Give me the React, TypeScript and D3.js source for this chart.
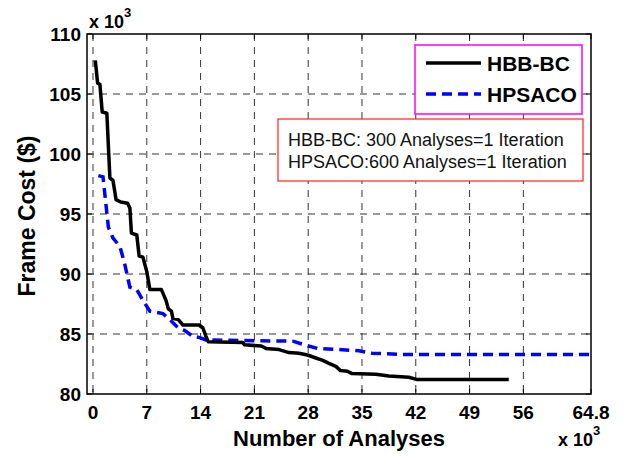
import { useEffect, useRef } from "react";
import * as d3 from "d3";

// values, x in thousands of analyses, y in thousands of $
const hbbX = [0.3, 0.6, 0.9, 1.2, 1.8, 2.2, 2.6, 3.0, 3.6, 4.5, 4.8, 5.0, 5.7, 6.0, 6.5, 7.0, 7.4, 8.9, 9.5, 9.8, 10.2, 10.4, 11.1, 11.7, 13.8, 14.3, 14.7, 15.0, 19.5, 19.7, 21.9, 22.5, 24.2, 25.5, 26.8, 27.9, 29.0, 29.9, 30.7, 31.6, 32.2, 33.1, 33.7, 36.8, 38.5, 41.1, 42.2, 54.1];
const hbbY = [107.8, 105.9, 105.8, 103.5, 103.4, 98.0, 97.8, 96.2, 96.0, 95.9, 95.5, 93.4, 93.25, 91.5, 91.4, 90.2, 88.7, 88.7, 87.8, 87.1, 86.9, 86.3, 86.2, 85.75, 85.75, 85.5, 84.8, 84.35, 84.3, 84.1, 84.0, 83.8, 83.7, 83.45, 83.4, 83.25, 83.0, 82.8, 82.55, 82.3, 81.95, 81.9, 81.7, 81.65, 81.5, 81.4, 81.2, 81.2];

const psoX = [0.7, 1.3, 2.0, 2.6, 3.5, 4.1, 4.8, 5.7, 6.5, 7.4, 9.1, 10.0, 11.1, 11.9, 13.0, 13.9, 14.7, 26.0, 27.5, 29.2, 32.0, 34.6, 36.3, 39.8, 64.8];
const psoY = [98.2, 98.1, 93.9, 93.0, 92.3, 90.9, 88.9, 88.7, 87.8, 86.9, 86.7, 86.2, 85.5, 85.3, 84.8, 84.7, 84.5, 84.4, 84.1, 83.8, 83.7, 83.6, 83.4, 83.3, 83.3];

const xTicks = [0, 7, 14, 21, 28, 35, 42, 49, 56, 64.8];
const yTicks = [80, 85, 90, 95, 100, 105, 110];
const seriesNames = ["HBB-BC", "HPSACO"];
const notes = ["HBB-BC: 300 Analyses=1 Iteration", "HPSACO:600 Analyses=1 Iteration"];

const W = 623;
const H = 457;
const M = { top: 34, right: 32, bottom: 63, left: 87 };
const FONT = "Arial, 'Liberation Sans', sans-serif";

export default function App() {
  const ref = useRef<SVGSVGElement>(null);

  useEffect(() => {
    const svg = d3.select(ref.current);
    svg.selectAll("*").remove();

    const x = d3.scaleLinear().domain([-0.78, 64.8]).range([M.left, W - M.right]);
    const y = d3.scaleLinear().domain([80, 110]).range([H - M.bottom, M.top]);
    const [x0, x1] = x.range();
    const [y0, y1] = y.range();

    const g = svg.append("g");

    // dashed grid (edges are covered by the box)
    g.selectAll(".vgrid")
      .data(xTicks.filter((t) => t < 64.8))
      .join("line")
      .attr("x1", (d) => x(d))
      .attr("x2", (d) => x(d))
      .attr("y1", y1)
      .attr("y2", y0)
      .attr("stroke", "#333")
      .attr("stroke-width", 1)
      .attr("stroke-dasharray", "7,6");

    g.selectAll(".hgrid")
      .data(yTicks.filter((t) => t > 80 && t < 110))
      .join("line")
      .attr("x1", x0)
      .attr("x2", x1)
      .attr("y1", (d) => y(d))
      .attr("y2", (d) => y(d))
      .attr("stroke", "#333")
      .attr("stroke-width", 1)
      .attr("stroke-dasharray", "7,6");

    // curves
    const path = (xs: number[], ys: number[]) =>
      d3
        .line<number>()
        .x((d) => x(d))
        .y((_, i) => y(ys[i]))(xs);

    g.append("path")
      .attr("d", path(psoX, psoY))
      .attr("fill", "none")
      .attr("stroke", "#0000ff")
      .attr("stroke-width", 3.5)
      .attr("stroke-dasharray", "10,6");

    g.append("path")
      .attr("d", path(hbbX, hbbY))
      .attr("fill", "none")
      .attr("stroke", "#000")
      .attr("stroke-width", 3.5)
      .attr("stroke-linejoin", "round");

    // box and inward ticks
    g.append("rect")
      .attr("x", x0)
      .attr("y", y1)
      .attr("width", x1 - x0)
      .attr("height", y0 - y1)
      .attr("fill", "none")
      .attr("stroke", "#000")
      .attr("stroke-width", 1.5);

    const tk = 5;
    xTicks.forEach((t) => {
      g.append("line").attr("x1", x(t)).attr("x2", x(t)).attr("y1", y0).attr("y2", y0 - tk).attr("stroke", "#000");
      g.append("line").attr("x1", x(t)).attr("x2", x(t)).attr("y1", y1).attr("y2", y1 + tk).attr("stroke", "#000");
      g.append("text")
        .text(String(t))
        .attr("x", x(t))
        .attr("y", y0 + 25)
        .attr("text-anchor", "middle")
        .attr("font-family", FONT)
        .attr("font-weight", "bold")
        .attr("font-size", 19)
        .attr("fill", "#000");
    });
    yTicks.forEach((t) => {
      g.append("line").attr("x1", x0).attr("x2", x0 + tk).attr("y1", y(t)).attr("y2", y(t)).attr("stroke", "#000");
      g.append("line").attr("x1", x1).attr("x2", x1 - tk).attr("y1", y(t)).attr("y2", y(t)).attr("stroke", "#000");
      g.append("text")
        .text(String(t))
        .attr("x", x0 - 6)
        .attr("y", y(t) + 7)
        .attr("text-anchor", "end")
        .attr("font-family", FONT)
        .attr("font-weight", "bold")
        .attr("font-size", 19)
        .attr("fill", "#000");
    });

    // axis titles
    g.append("text")
      .text("Number of Analyses")
      .attr("x", (x0 + x1) / 2)
      .attr("y", 446)
      .attr("text-anchor", "middle")
      .attr("font-family", FONT)
      .attr("font-weight", "bold")
      .attr("font-size", 22);

    g.append("text")
      .text("Frame Cost ($)")
      .attr("transform", `translate(35, ${(y0 + y1) / 2 + 2}) rotate(-90)`)
      .attr("text-anchor", "middle")
      .attr("font-family", FONT)
      .attr("font-weight", "bold")
      .attr("font-size", 23);

    // exponent labels
    const expo = (px: number, py: number) => {
      const t = g.append("text")
        .attr("x", px)
        .attr("y", py)
        .attr("font-family", FONT)
        .attr("font-weight", "bold")
        .attr("font-size", 18);
      t.append("tspan").text("x 10");
      t.append("tspan").text("3").attr("font-size", 13).attr("dy", -11);
    };
    expo(89, 28);
    expo(558, 446);

    // legend
    const lg = g.append("g");
    lg.append("rect")
      .attr("x", 415)
      .attr("y", 45)
      .attr("width", 167)
      .attr("height", 69)
      .attr("fill", "#fff")
      .attr("stroke", "#ff00ff")
      .attr("stroke-width", 1.5);
    seriesNames.forEach((name, i) => {
      const ly = 63 + i * 31;
      lg.append("line")
        .attr("x1", 426)
        .attr("x2", 481)
        .attr("y1", ly)
        .attr("y2", ly)
        .attr("stroke", i === 0 ? "#000" : "#0000ff")
        .attr("stroke-width", 3.5)
        .attr("stroke-dasharray", i === 0 ? null : "10,6");
      lg.append("text")
        .text(name)
        .attr("x", 487)
        .attr("y", ly + 8)
        .attr("font-family", FONT)
        .attr("font-weight", "bold")
        .attr("font-size", 21);
    });

    // note box
    const nb = g.append("g");
    nb.append("rect")
      .attr("x", 278)
      .attr("y", 119)
      .attr("width", 305)
      .attr("height", 62)
      .attr("fill", "#fff")
      .attr("stroke", "#ff2020")
      .attr("stroke-width", 1.2);
    notes.forEach((s, i) => {
      nb.append("text")
        .text(s)
        .attr("x", 288)
        .attr("y", 146 + i * 22)
        .attr("font-family", FONT)
        .attr("font-size", 18)
        .attr("fill", "#111");
    });
  }, []);

  return (
    <svg
      ref={ref}
      width={W}
      height={H}
      style={{ position: "absolute", left: 0, top: 0, background: "#fff" }}
    />
  );
}
